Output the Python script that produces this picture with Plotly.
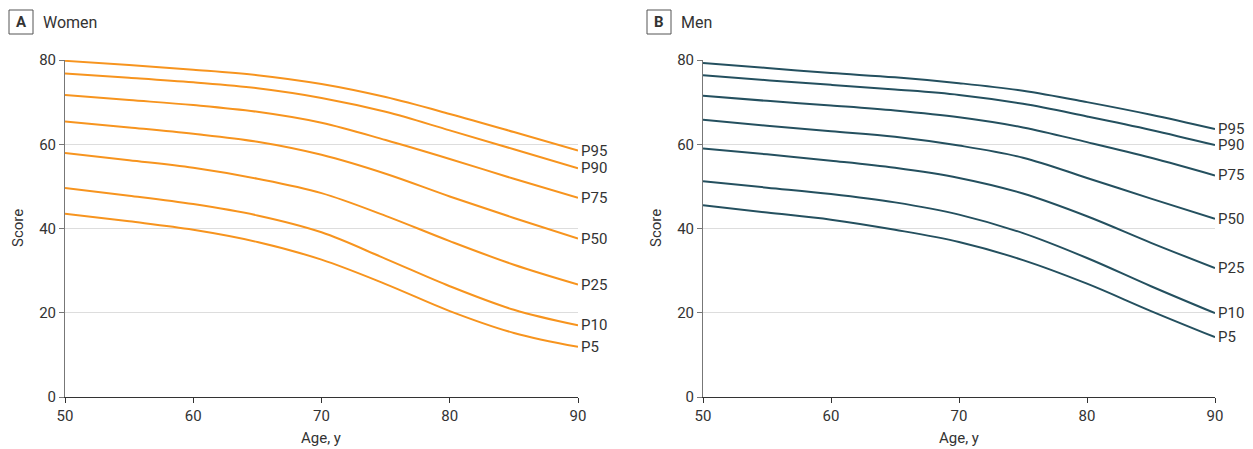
import plotly.graph_objects as go

ages = [50, 55, 60, 65, 70, 75, 80, 85, 90]
pct_labels = ["P95", "P90", "P75", "P50", "P25", "P10", "P5"]

women = {
    "P95": [79.8, 78.8, 77.7, 76.4, 74.3, 71.2, 67.2, 62.9, 58.5],
    "P90": [76.8, 75.8, 74.7, 73.3, 71.0, 67.7, 63.3, 58.8, 54.3],
    "P75": [71.7, 70.5, 69.3, 67.7, 65.1, 61.0, 56.5, 51.8, 47.3],
    "P50": [65.4, 64.0, 62.5, 60.6, 57.5, 53.0, 47.6, 42.5, 37.6],
    "P25": [57.9, 56.2, 54.4, 51.8, 48.4, 43.0, 37.0, 31.4, 26.7],
    "P10": [49.6, 47.8, 45.8, 43.1, 39.1, 32.8, 26.3, 20.7, 17.0],
    "P5":  [43.5, 41.7, 39.7, 36.8, 32.6, 26.8, 20.4, 15.2, 11.9],
}
men = {
    "P95": [79.3, 78.1, 76.9, 75.9, 74.5, 72.7, 70.0, 67.0, 63.6],
    "P90": [76.4, 75.2, 74.1, 73.0, 71.7, 69.6, 66.6, 63.4, 59.8],
    "P75": [71.5, 70.3, 69.2, 68.0, 66.4, 64.0, 60.5, 56.8, 52.6],
    "P50": [65.8, 64.4, 63.1, 61.8, 59.7, 56.8, 52.0, 47.1, 42.3],
    "P25": [59.0, 57.6, 56.1, 54.4, 52.0, 48.3, 42.9, 36.6, 30.6],
    "P10": [51.2, 49.7, 48.2, 46.2, 43.3, 38.9, 33.0, 26.3, 19.9],
    "P5":  [45.5, 43.8, 42.1, 39.7, 36.8, 32.5, 26.9, 20.4, 14.2],
}

x_ticks = [50, 60, 70, 80, 90]
y_ticks = [0, 20, 40, 60, 80]

WOMEN_COLOR = "#F7941E"
MEN_COLOR = "#24505F"
TEXT = "#333333"
FONT = "Roboto, Liberation Sans, sans-serif"

W, H = 1253, 449

fig = go.Figure()

for p in pct_labels:
    fig.add_trace(go.Scatter(x=ages, y=women[p], mode="lines", name="Women " + p,
                             line=dict(color=WOMEN_COLOR, width=2, shape="spline", smoothing=1.0),
                             xaxis="x", yaxis="y", showlegend=False, hoverinfo="skip"))
    fig.add_trace(go.Scatter(x=ages, y=men[p], mode="lines", name="Men " + p,
                             line=dict(color=MEN_COLOR, width=2, shape="spline", smoothing=1.0),
                             xaxis="x2", yaxis="y2", showlegend=False, hoverinfo="skip"))

annotations = []
for p in pct_labels:
    annotations.append(dict(x=ages[-1], y=women[p][-1], xref="x", yref="y", text=p,
                            showarrow=False, xanchor="left", yanchor="middle", xshift=1,
                            font=dict(size=15, color=TEXT, family=FONT)))
    annotations.append(dict(x=ages[-1], y=men[p][-1], xref="x2", yref="y2", text=p,
                            showarrow=False, xanchor="left", yanchor="middle", xshift=1,
                            font=dict(size=15, color=TEXT, family=FONT)))

# panel headers and axis titles
shapes = []
for letter, title, bx, ycx, xcx in [("A", "Women", 9, 18, 321), ("B", "Men", 647, 656, 959)]:
    shapes.append(dict(type="rect", xref="paper", yref="paper",
                       x0=bx / W, x1=(bx + 24) / W, y0=1 - 34 / H, y1=1 - 10 / H,
                       line=dict(color="#555555", width=1), fillcolor="white"))
    annotations.append(dict(x=(bx + 12) / W, y=1 - 22 / H, xref="paper", yref="paper",
                            text="<b>" + letter + "</b>", showarrow=False,
                            xanchor="center", yanchor="middle",
                            font=dict(size=15, color=TEXT, family=FONT)))
    annotations.append(dict(x=(bx + 32) / W, y=1 - 22 / H, xref="paper", yref="paper",
                            text=title, showarrow=False, xanchor="left", yanchor="middle",
                            font=dict(size=16, color=TEXT, family=FONT)))
    annotations.append(dict(x=ycx / W, y=1 - 228 / H, xref="paper", yref="paper",
                            text="Score", showarrow=False, textangle=-90,
                            xanchor="center", yanchor="middle",
                            font=dict(size=15, color=TEXT, family=FONT)))
    annotations.append(dict(x=xcx / W, y=1 - 438 / H, xref="paper", yref="paper",
                            text="Age, y", showarrow=False,
                            xanchor="center", yanchor="middle",
                            font=dict(size=15, color=TEXT, family=FONT)))

xaxis_common = dict(range=[50, 90], tickvals=x_ticks, ticks="outside", ticklen=5,
                    tickcolor=TEXT, showline=True, linecolor=TEXT, linewidth=1,
                    showgrid=False, zeroline=False, automargin=False,
                    tickfont=dict(size=15, color=TEXT, family=FONT))
yaxis_common = dict(range=[0, 80], tickvals=y_ticks, ticks="outside", ticklen=5,
                    tickcolor="#777777", showline=True, linecolor="#777777", linewidth=1,
                    showgrid=True, gridcolor="#DDDDDD", gridwidth=1, zeroline=False,
                    automargin=False,
                    tickfont=dict(size=15, color=TEXT, family=FONT),
                    domain=[1 - 397 / H, 1 - 60 / H])

fig.update_layout(
    width=W, height=H,
    margin=dict(l=0, r=0, t=0, b=0),
    paper_bgcolor="white", plot_bgcolor="white",
    font=dict(family=FONT, color=TEXT),
    xaxis=dict(xaxis_common, domain=[65 / W, 578 / W], anchor="y"),
    yaxis=dict(yaxis_common, anchor="x"),
    xaxis2=dict(xaxis_common, domain=[703 / W, 1215 / W], anchor="y2"),
    yaxis2=dict(yaxis_common, anchor="x2"),
    annotations=annotations,
    shapes=shapes,
)

fig.write_html("out.html")
